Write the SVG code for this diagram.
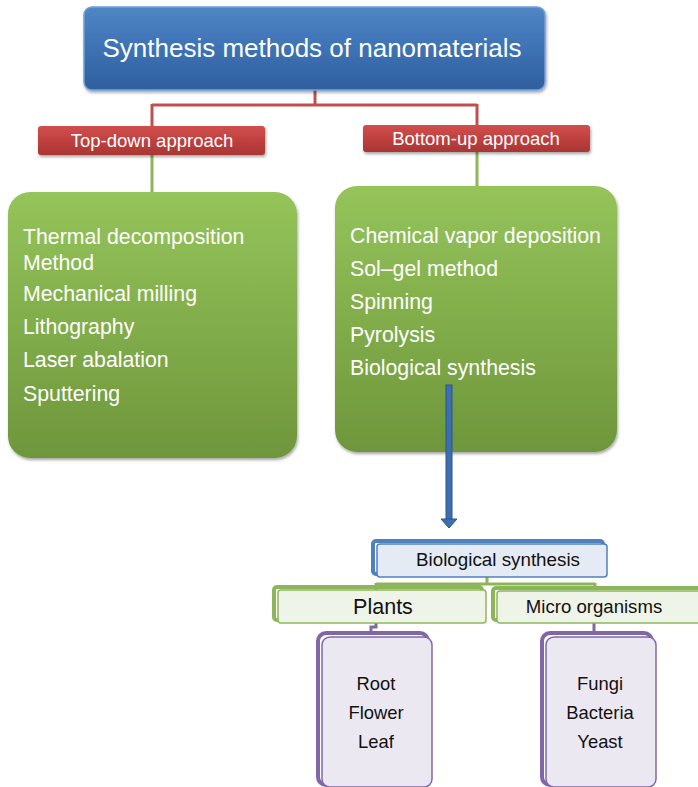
<svg xmlns="http://www.w3.org/2000/svg" width="698" height="787" viewBox="0 0 698 787">
<defs>
<linearGradient id="gBlue" x1="0" y1="0" x2="0" y2="1">
<stop offset="0" stop-color="#4f86c6"/><stop offset="0.5" stop-color="#3d72b4"/><stop offset="1" stop-color="#2f5f9e"/>
</linearGradient>
<linearGradient id="gRed" x1="0" y1="0" x2="0" y2="1">
<stop offset="0" stop-color="#d0504e"/><stop offset="0.5" stop-color="#c0403f"/><stop offset="1" stop-color="#a83634"/>
</linearGradient>
<linearGradient id="gGreen" x1="0" y1="0" x2="0" y2="1">
<stop offset="0" stop-color="#95c45a"/><stop offset="1" stop-color="#6e963b"/>
</linearGradient>
<filter id="sh" x="-10%" y="-10%" width="130%" height="130%">
<feDropShadow dx="1" dy="2" stdDeviation="1.5" flood-color="#000" flood-opacity="0.35"/>
</filter>
<style>
.w{font-family:"Liberation Sans",Arial,sans-serif;fill:#fff}
.b{font-family:"Liberation Sans",Arial,sans-serif;fill:#111}
.lst{font-size:21.3px}
.red{stroke:#c0504d;stroke-width:3;fill:none}
.grn{stroke:#8db65a;stroke-width:3;fill:none}
.pur{stroke:#8068a8;stroke-width:3;fill:none}
</style>
</defs>
<g id="connectors">
<path class="red" d="M315 90V105M152 105H477M152 104V127M477 104V126"/>
<path class="grn" d="M152 155V193M477 151V187"/>
<path class="grn" d="M487 576V584M376 584H595M376 583V590M595 583V590"/>
<path class="pur" d="M376 623V627H371V634M594 623V634"/>
</g>
<g id="title">
<rect x="84" y="7" width="461" height="83" rx="8" fill="url(#gBlue)" stroke="#6fa3dc" stroke-width="1.5" filter="url(#sh)"/>
<text class="w" x="312" y="57" font-size="26" text-anchor="middle">Synthesis methods of nanomaterials</text>
</g>
<g id="topdown">
<rect x="38" y="126" width="227" height="29" rx="3" fill="url(#gRed)" filter="url(#sh)"/>
<text class="w" x="152" y="147" font-size="18.5" text-anchor="middle">Top-down approach</text>
</g>
<g id="bottomup">
<rect x="363" y="125" width="227" height="27" rx="3" fill="url(#gRed)" filter="url(#sh)"/>
<text class="w" x="476" y="145" font-size="18.5" text-anchor="middle">Bottom-up approach</text>
</g>
<g id="topdown-list">
<rect x="8" y="192" width="289" height="266" rx="22" fill="url(#gGreen)" filter="url(#sh)"/>
<text class="w lst" x="23" y="244">Thermal decomposition</text>
<text class="w lst" x="23" y="270">Method</text>
<text class="w lst" x="23" y="301">Mechanical milling</text>
<text class="w lst" x="23" y="334">Lithography</text>
<text class="w lst" x="23" y="367">Laser abalation</text>
<text class="w lst" x="23" y="401">Sputtering</text>
</g>
<g id="bottomup-list">
<rect x="335" y="186" width="282" height="266" rx="22" fill="url(#gGreen)" filter="url(#sh)"/>
<text class="w lst" x="350" y="243">Chemical vapor deposition</text>
<text class="w lst" x="350" y="276">Sol–gel method</text>
<text class="w lst" x="350" y="309">Spinning</text>
<text class="w lst" x="350" y="342">Pyrolysis</text>
<text class="w lst" x="350" y="375">Biological synthesis</text>
</g>
<g id="arrow">
<rect x="446" y="385" width="6" height="135" fill="#3d6fae" stroke="#2c5590" stroke-width="1"/>
<path d="M441 519H457L449 528Z" fill="#3d6fae" stroke="#2c5590" stroke-width="1"/>
</g>
<g id="bio">
<rect x="373" y="541" width="230" height="33" rx="3" fill="none" stroke="#4f81bd" stroke-width="4"/>
<rect x="377" y="544" width="230" height="33" rx="3" fill="#e5ebf5" stroke="#4f81bd" stroke-width="1.5"/>
<text class="b" x="498" y="566" font-size="18.8" text-anchor="middle">Biological synthesis</text>
</g>
<g id="plants">
<rect x="274" y="587" width="208" height="33" rx="3" fill="none" stroke="#8db65a" stroke-width="4"/>
<rect x="278" y="590" width="208" height="33" rx="3" fill="#eff4e8" stroke="#8db65a" stroke-width="1.5"/>
<text class="b" x="383" y="614" font-size="21.5" text-anchor="middle">Plants</text>
</g>
<g id="micro">
<rect x="493" y="588" width="210" height="32" rx="3" fill="none" stroke="#8db65a" stroke-width="4"/>
<rect x="497" y="591" width="210" height="32" rx="3" fill="#eff4e8" stroke="#8db65a" stroke-width="1.5"/>
<text class="b" x="594" y="613" font-size="18.6" text-anchor="middle">Micro organisms</text>
</g>
<g id="plant-parts">
<rect x="318" y="633" width="110" height="152" rx="8" fill="none" stroke="#8068a8" stroke-width="4"/>
<rect x="322" y="637" width="110" height="150" rx="8" fill="#ece8f2" stroke="#8068a8" stroke-width="1.5"/>
<text class="b" x="376" y="690" font-size="18.4" text-anchor="middle">Root</text>
<text class="b" x="376" y="719" font-size="18.4" text-anchor="middle">Flower</text>
<text class="b" x="376" y="748" font-size="18.4" text-anchor="middle">Leaf</text>
</g>
<g id="microbes">
<rect x="542" y="633" width="110" height="152" rx="8" fill="none" stroke="#8068a8" stroke-width="4"/>
<rect x="546" y="637" width="110" height="150" rx="8" fill="#ece8f2" stroke="#8068a8" stroke-width="1.5"/>
<text class="b" x="600" y="690" font-size="18.4" text-anchor="middle">Fungi</text>
<text class="b" x="600" y="719" font-size="18.4" text-anchor="middle">Bacteria</text>
<text class="b" x="600" y="748" font-size="18.4" text-anchor="middle">Yeast</text>
</g>
</svg>
